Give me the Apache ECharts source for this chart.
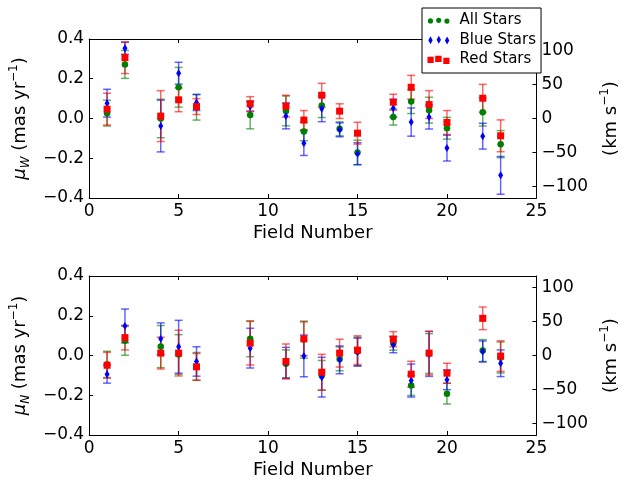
<!DOCTYPE html>
<html>
<head>
<meta charset="utf-8">
<script src="https://cdn.jsdelivr.net/npm/echarts@6/dist/echarts.min.js"></script>
<style>html,body{margin:0;padding:0;background:#fff;}#c{width:628px;height:481px;}</style>
</head>
<body>
<div id="c"></div>
<script>
// ---- data ----
const fields = [1, 2, 4, 5, 6, 9, 11, 12, 13, 14, 15, 17, 18, 19, 20, 22, 23];

// mu_W (top panel)
const allW      = [0.027, 0.272, 0.000, 0.157, 0.057, 0.018, 0.038, -0.065, 0.065, -0.052, -0.171, 0.007, 0.085, 0.042, -0.049, 0.032, -0.129];
const allWErr   = [0.065, 0.070, 0.097, 0.100, 0.065, 0.070, 0.075, 0.047, 0.060, 0.035, 0.062, 0.040, 0.060, 0.065, 0.055, 0.070, 0.068];
const blueW     = [0.077, 0.353, -0.038, 0.228, 0.080, 0.060, 0.013, -0.124, 0.049, -0.057, -0.177, 0.052, -0.018, 0.007, -0.149, -0.089, -0.286];
const blueWErr  = [0.070, 0.030, 0.130, 0.055, 0.040, 0.025, 0.065, 0.062, 0.065, 0.035, 0.055, 0.045, 0.071, 0.060, 0.065, 0.065, 0.095];
const redW      = [0.047, 0.306, 0.012, 0.094, 0.060, 0.074, 0.062, -0.008, 0.117, 0.037, -0.074, 0.082, 0.157, 0.070, -0.020, 0.102, -0.087];
const redWErr   = [0.080, 0.080, 0.128, 0.060, 0.040, 0.036, 0.055, 0.048, 0.060, 0.037, 0.055, 0.040, 0.060, 0.070, 0.060, 0.070, 0.080];

// mu_N (bottom panel)
const allN      = [-0.045, 0.074, 0.045, 0.005, -0.055, 0.084, -0.042, 0.080, -0.100, -0.017, 0.020, 0.062, -0.151, 0.010, -0.192, 0.025, -0.010];
const allNErr   = [0.066, 0.073, 0.106, 0.100, 0.070, 0.090, 0.070, 0.093, 0.075, 0.060, 0.072, 0.035, 0.050, 0.100, 0.052, 0.055, 0.078];
const blueN     = [-0.094, 0.149, 0.084, 0.044, -0.030, 0.037, -0.037, -0.002, -0.109, -0.022, 0.017, 0.054, -0.126, 0.008, -0.122, 0.020, -0.039];
const blueNErr  = [0.045, 0.085, 0.080, 0.133, 0.074, 0.100, 0.078, 0.105, 0.100, 0.070, 0.070, 0.040, 0.083, 0.113, 0.050, 0.053, 0.067];
const redN      = [-0.049, 0.090, 0.012, 0.012, -0.057, 0.062, -0.030, 0.084, -0.084, 0.012, 0.027, 0.082, -0.094, 0.012, -0.089, 0.187, -0.003];
const redNErr   = [0.065, 0.062, 0.080, 0.115, 0.067, 0.110, 0.088, 0.085, 0.090, 0.070, 0.072, 0.038, 0.065, 0.110, 0.050, 0.057, 0.077];

// axis ticks
const xTicks = [0, 5, 10, 15, 20, 25];
const muTicks = [-0.4, -0.2, 0.0, 0.2, 0.4];
const kmTicks = [-100, -50, 0, 50, 100];
const kmRange = 117; // km/s equivalent of 0.4 mas/yr

// ---- chart ----
const FONT = 'DejaVu Sans';
const GREEN = '#008000', BLUE = '#0000ff', RED = '#ff0000';

function pts(vals, errs) { return fields.map((f, i) => [f, vals[i], errs[i]]); }

function errRender(color) {
  return function (params, api) {
    const x = api.value(0), y = api.value(1), e = api.value(2);
    const t = api.coord([x, y + e]);
    const b = api.coord([x, y - e]);
    const cw = 4;
    const st = { stroke: color, lineWidth: 1.5, opacity: 0.6 };
    return {
      type: 'group',
      children: [
        { type: 'line', shape: { x1: t[0], y1: t[1], x2: b[0], y2: b[1] }, style: st },
        { type: 'line', shape: { x1: t[0] - cw, y1: t[1], x2: t[0] + cw, y2: t[1] }, style: st },
        { type: 'line', shape: { x1: b[0] - cw, y1: b[1], x2: b[0] + cw, y2: b[1] }, style: st }
      ]
    };
  };
}

const axisLineStyle = { show: true, onZero: false, lineStyle: { color: '#000', width: 1 } };
const tickStyle = { show: true, inside: true, length: 4, lineStyle: { color: '#000', width: 1 } };
const labelStyle = { color: '#000', fontSize: 17, fontFamily: FONT };

function xAxes(gi) {
  return [
    {
      gridIndex: gi, type: 'value', min: xTicks[0], max: xTicks[xTicks.length - 1], interval: 5, position: 'bottom',
      axisLine: axisLineStyle, axisTick: tickStyle, splitLine: { show: false },
      axisLabel: Object.assign({ margin: 5 }, labelStyle),
      name: 'Field Number', nameLocation: 'middle', nameGap: 26,
      nameTextStyle: { color: '#000', fontSize: 18, fontFamily: FONT }
    },
    {
      gridIndex: gi, type: 'value', min: xTicks[0], max: xTicks[xTicks.length - 1], interval: 5, position: 'top',
      axisLine: axisLineStyle, axisTick: tickStyle, splitLine: { show: false },
      axisLabel: { show: false }
    }
  ];
}

function muName(sub) {
  return {
    name: '{mu|μ}{sub|' + sub + '}{t| (mas yr}{sup|−1}{t|)}',
    nameTextStyle: {
      color: '#000', fontSize: 18, fontFamily: FONT,
      rich: {
        t: { fontSize: 18, fontFamily: FONT, color: '#000', lineHeight: 24, verticalAlign: 'middle' },
        mu: { fontSize: 18, fontFamily: FONT, fontStyle: 'italic', color: '#000', lineHeight: 24, verticalAlign: 'middle' },
        sub: { fontSize: 12, fontFamily: FONT, fontStyle: 'italic', color: '#000', lineHeight: 14, verticalAlign: 'bottom' },
        sup: { fontSize: 12, fontFamily: FONT, color: '#000', lineHeight: 14, verticalAlign: 'top' }
      }
    }
  };
}

const kmName = {
  name: '{t|(km s}{sup|−1}{t|)}',
  nameTextStyle: {
    color: '#000', fontSize: 18, fontFamily: FONT,
    rich: {
      t: { fontSize: 18, fontFamily: FONT, color: '#000', lineHeight: 24, verticalAlign: 'middle' },
      sup: { fontSize: 12, fontFamily: FONT, color: '#000', lineHeight: 14, verticalAlign: 'top' }
    }
  }
};

function yAxes(gi, sub) {
  return [
    Object.assign({
      gridIndex: gi, type: 'value', min: muTicks[0], max: muTicks[muTicks.length - 1], interval: 0.2, position: 'left',
      axisLine: axisLineStyle, axisTick: tickStyle, splitLine: { show: false },
      axisLabel: Object.assign({
        margin: 5,
        formatter: v => (v < -1e-9 ? '\u2212' : '') + Math.abs(v).toFixed(1)
      }, labelStyle),
      nameLocation: 'middle', nameRotate: 90, nameGap: 47
    }, muName(sub)),
    Object.assign({
      gridIndex: gi, type: 'value', min: -kmRange, max: kmRange, position: 'right',
      axisLine: axisLineStyle,
      axisTick: Object.assign({ customValues: kmTicks }, tickStyle),
      splitLine: { show: false },
      axisLabel: Object.assign({
        margin: 5, customValues: kmTicks,
        formatter: v => (v < 0 ? '\u2212' + (-v) : '' + v)
      }, labelStyle),
      nameLocation: 'middle', nameRotate: 90, nameGap: 51
    }, kmName)
  ];
}

const circlesIcon = 'path://M0 0M22 10M0.4 5.4a2.6 2.6 0 1 0 5.2 0a2.6 2.6 0 1 0 -5.2 0ZM8.7 4.8a2.6 2.6 0 1 0 5.2 0a2.6 2.6 0 1 0 -5.2 0ZM17 5.6a2.6 2.6 0 1 0 5.2 0a2.6 2.6 0 1 0 -5.2 0Z';
const diamondsIcon = 'path://M0 0M22 10M3 1.2L5.2 5.2L3 9.2L0.8 5.2ZM11.3 0.8L13.5 4.8L11.3 8.8L9.1 4.8ZM19.6 1.4L21.8 5.4L19.6 9.4L17.4 5.4Z';
const squaresIcon = 'path://M0 0M22 10M0 2.2h6.2v6.2h-6.2ZM7.7 1.2h6.4v6.4h-6.4ZM15.8 3.2h6.2v6.2h-6.2Z';

function seriesFor(gi, name, color, symbol, size, vals, errs) {
  const data = pts(vals, errs);
  return [
    {
      type: 'custom', name: name, xAxisIndex: gi * 2, yAxisIndex: gi * 2,
      renderItem: errRender(color), encode: { x: 0, y: 1 }, data: data,
      itemStyle: { color: color }, silent: true
    },
    {
      type: 'scatter', name: name, xAxisIndex: gi * 2, yAxisIndex: gi * 2,
      symbol: symbol, symbolSize: size, data: data.map(d => [d[0], d[1]]),
      itemStyle: { color: color, opacity: 1 }, silent: true
    }
  ];
}

const series = [].concat(
  seriesFor(0, 'All Stars', GREEN, 'circle', 6.5, allW, allWErr),
  seriesFor(1, 'All Stars', GREEN, 'circle', 6.5, allN, allNErr),
  seriesFor(0, 'Blue Stars', BLUE, 'diamond', [5, 8], blueW, blueWErr),
  seriesFor(1, 'Blue Stars', BLUE, 'diamond', [5, 8], blueN, blueNErr),
  seriesFor(0, 'Red Stars', RED, 'rect', 7, redW, redWErr),
  seriesFor(1, 'Red Stars', RED, 'rect', 7, redN, redNErr)
);

const option = {
  animation: false,
  backgroundColor: '#fff',
  grid: [
    { left: 87, top: 39, width: 456, height: 159 },
    { left: 87, top: 276, width: 456, height: 159 }
  ],
  xAxis: [].concat(xAxes(0), xAxes(1)),
  yAxis: [].concat(yAxes(0, 'W'), yAxes(1, 'N')),
  legend: {
    left: 422, top: 8, orient: 'vertical',
    backgroundColor: '#fff', borderColor: '#000', borderWidth: 1, borderRadius: 0,
    padding: [4, 5, 5, 5.5], itemWidth: 22, itemHeight: 10, itemGap: 2.5,
    selectedMode: false, z: 20,
    textStyle: { color: '#000', fontSize: 15, fontFamily: FONT, lineHeight: 17, padding: [0, 0, 0, 5] },
    data: [
      { name: 'All Stars', icon: circlesIcon, itemStyle: { color: GREEN } },
      { name: 'Blue Stars', icon: diamondsIcon, itemStyle: { color: BLUE } },
      { name: 'Red Stars', icon: squaresIcon, itemStyle: { color: RED } }
    ]
  },
  series: series
};

const chart = echarts.init(document.getElementById('c'), null, { renderer: 'canvas' });
chart.setOption(option);
</script>
</body>
</html>
